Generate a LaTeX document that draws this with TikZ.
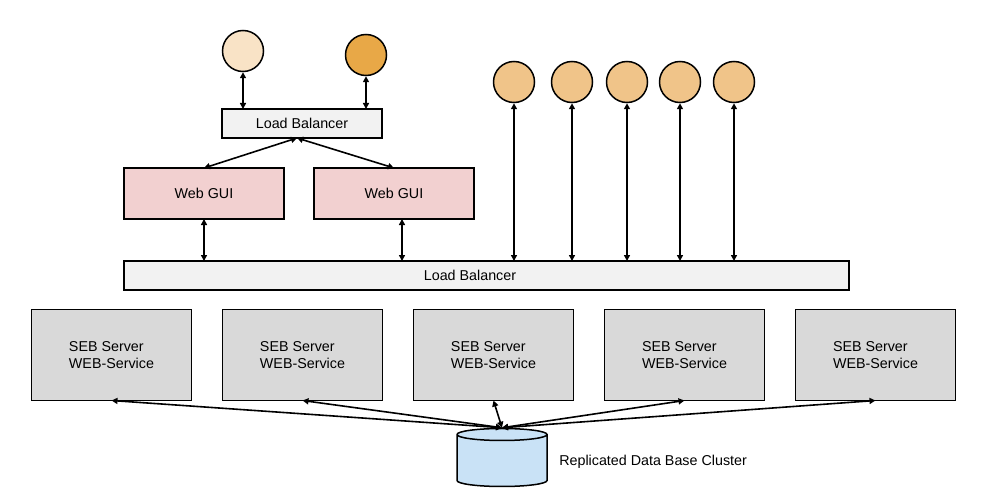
\documentclass[tikz,border=0pt]{standalone}
\usepackage{fontspec}
\setmainfont{Liberation Sans}
\usetikzlibrary{shapes.geometric,arrows.meta,positioning,calc}

\definecolor{lbgray}{HTML}{F2F2F2}
\definecolor{guired}{HTML}{F2D0D0}
\definecolor{srvgray}{HTML}{D9D9D9}
\definecolor{dbblue}{HTML}{C9E2F6}
\definecolor{clientpale}{HTML}{F9E3C6}
\definecolor{clientdark}{HTML}{E8A847}
\definecolor{clientmid}{HTML}{F0C489}

\tikzset{
  box/.style={draw, line width=1.5pt, minimum width=160pt, inner sep=0pt, outer sep=0pt},
  lbbox/.style={box, fill=lbgray, minimum height=29pt},
  guibox/.style={box, fill=guired, minimum height=51pt},
  srvbox/.style={box, fill=srvgray, minimum height=91pt, align=left},
  client/.style={circle, draw, line width=1.5pt, minimum size=41pt, inner sep=0pt},
  link/.style={<->, line width=1.6pt},
}

\begin{document}
\begin{tikzpicture}[x=1pt, y=-1pt, >={Triangle[length=6pt,width=6pt]},
    font=\fontsize{14.3}{17.5}\selectfont]
  \useasboundingbox (0,0) rectangle (984,500);

  % GUI side
  \node[lbbox] (lbtop) at (302,123.5) {Load Balancer};
  \node[client, fill=clientpale] (c1) at (243,51) {};
  \node[client, fill=clientdark] (c2) at (366,55) {};
  \node[guibox] (gui1) at (204,193.5) {Web GUI};
  \node[guibox, right=30pt of gui1] (gui2) {Web GUI};

  \draw[link] (c1) -- (c1 |- lbtop.north);
  \draw[link] (c2) -- (c2 |- lbtop.north);
  \draw[link] ([xshift=-5pt]lbtop.south) -- (gui1.north);
  \draw[link] ([xshift=-5pt]lbtop.south) -- (gui2.north);

  % main load balancer
  \node[lbbox, minimum width=725pt] (lbmain) at (486.5,275.5) {Load Balancer\hspace*{33pt}};
  \draw[link] (gui1) -- (gui1 |- lbmain.north);
  \draw[link] ([xshift=8pt]gui2.south) -- ([xshift=8pt]gui2.south |- lbmain.north);

  \foreach \cx [count=\i] in {514,572,627,680,734} {
    \node[client, fill=clientmid] (r\i) at (\cx,82) {};
    \draw[link] (r\i) -- (r\i |- lbmain.north);
  }

  % servers
  \node[srvbox] (srv1) at (111.5,355) {SEB Server\\WEB-Service};
  \foreach \i [remember=\i as \j (initially 1)] in {2,...,5}
    \node[srvbox, right=31pt of srv\j] (srv\i) {SEB Server\\WEB-Service};

  % data base
  \node[cylinder, shape border rotate=90, draw, line width=1.5pt, fill=dbblue,
        aspect=1.8, minimum width=90pt, minimum height=58pt] (db) at (502,462) {};
  \node[right=8pt of db] (dblabel) {Replicated Data Base Cluster};
  \foreach \i in {1,...,5}
    \draw[link] (db.north) -- (srv\i.south);
\end{tikzpicture}
\end{document}
